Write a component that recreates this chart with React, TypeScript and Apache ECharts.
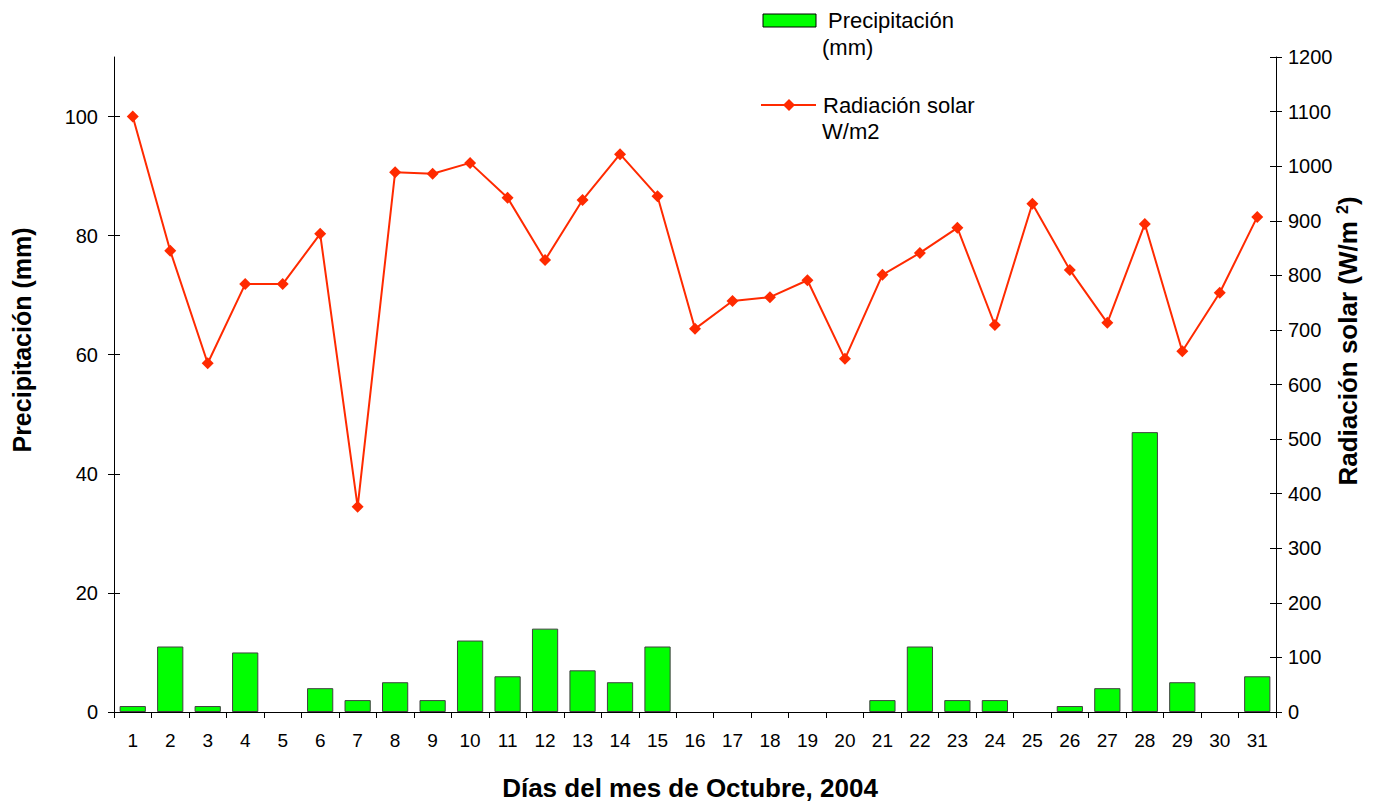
import React, { useEffect, useRef } from "react";
import * as echarts from "echarts";

const days = ["1","2","3","4","5","6","7","8","9","10","11","12","13","14","15","16","17","18","19","20","21","22","23","24","25","26","27","28","29","30","31"];
const precipitation = [1, 11, 1, 10, 0, 4, 2, 5, 2, 12, 6, 14, 7, 5, 11, 0, 0, 0, 0, 0, 2, 11, 2, 2, 0, 1, 4, 47, 5, 0, 6];
const radiation = [1091, 845, 639, 784, 784, 876, 376, 989, 986, 1006, 942, 828, 938, 1022, 945, 702, 753, 760, 791, 647, 801, 841, 887, 709, 931, 810, 713, 894, 661, 768, 907];
const leftTicks = [0, 20, 40, 60, 80, 100];

const FONT = "'Liberation Sans', Arial, sans-serif";
const RED = "#FF2A00";
const GREEN = "#00FF00";

export default function App() {
  const ref = useRef<HTMLDivElement>(null);
  useEffect(() => {
    if (!ref.current) return;
    const chart = echarts.init(ref.current, null, { renderer: "svg" });
    const axisLine = { show: true, lineStyle: { color: "#000", width: 1 } };
    chart.setOption({
      animation: false,
      textStyle: { fontFamily: FONT },
      grid: { left: 114, right: 97, top: 57, bottom: 91, containLabel: false },
      xAxis: {
        type: "category",
        data: days,
        axisLine,
        axisTick: { show: true, alignWithLabel: false, length: 6, lineStyle: { color: "#000" } },
        axisLabel: { color: "#000", fontSize: 19, margin: 19, fontFamily: FONT },
      },
      yAxis: [
        {
          type: "value", position: "left", min: 0, max: 110,
          axisLine, splitLine: { show: false },
          axisTick: { show: true, length: 6, customValues: leftTicks, lineStyle: { color: "#000" } },
          axisLabel: { color: "#000", fontSize: 20, margin: 16, customValues: leftTicks, fontFamily: FONT },
        },
        {
          type: "value", position: "right", min: 0, max: 1200, interval: 100,
          axisLine, splitLine: { show: false },
          axisTick: { show: true, length: 6, lineStyle: { color: "#000" } },
          axisLabel: { color: "#000", fontSize: 20, margin: 12, fontFamily: FONT, formatter: (v: number) => String(v) },
        },
        {
          type: "value", position: "left", min: 0, max: 110,
          axisLine: { show: false }, splitLine: { show: false },
          axisTick: { show: true, inside: true, length: 6, customValues: leftTicks, lineStyle: { color: "#000" } },
          axisLabel: { show: false },
        },
        {
          type: "value", position: "right", min: 0, max: 1200, interval: 100,
          axisLine: { show: false }, splitLine: { show: false },
          axisTick: { show: true, inside: true, length: 6, lineStyle: { color: "#000" } },
          axisLabel: { show: false },
        },
      ],
      series: [
        {
          name: "Precipitación (mm)",
          type: "bar",
          yAxisIndex: 0,
          data: precipitation.map((p) => (p === 0 ? null : p)),
          barWidth: "70%",
          itemStyle: { color: GREEN, borderColor: "#404040", borderWidth: 1 },
        },
        {
          name: "Radiación solar W/m2",
          type: "line",
          yAxisIndex: 1,
          data: radiation,
          symbol: "diamond",
          symbolSize: 12,
          lineStyle: { color: RED, width: 2 },
          itemStyle: { color: RED },
        },
      ],
      graphic: [
        { type: "rect", shape: { x: 763, y: 14, width: 53, height: 13 }, style: { fill: GREEN, stroke: "#000", lineWidth: 1 } },
        { type: "text", x: 828, y: 20, style: { text: "Precipitación", font: `22px ${FONT}`, fill: "#000", textVerticalAlign: "middle" } },
        { type: "text", x: 822, y: 47, style: { text: "(mm)", font: `22px ${FONT}`, fill: "#000", textVerticalAlign: "middle" } },
        { type: "line", shape: { x1: 761, y1: 105, x2: 816, y2: 105 }, style: { stroke: RED, lineWidth: 2 } },
        { type: "polygon", shape: { points: [[789, 99], [795, 105], [789, 111], [783, 105]] }, style: { fill: RED } },
        { type: "text", x: 823, y: 105, style: { text: "Radiación solar", font: `22px ${FONT}`, fill: "#000", textVerticalAlign: "middle" } },
        { type: "text", x: 822, y: 131, style: { text: "W/m2", font: `22px ${FONT}`, fill: "#000", textVerticalAlign: "middle" } },
        {
          type: "text", x: 22, y: 340, rotation: Math.PI / 2,
          style: { text: "Precipitación (mm)", font: `bold 25px ${FONT}`, fill: "#000", textAlign: "center", textVerticalAlign: "middle" },
        },
        {
          type: "text", x: 1348, y: 341, rotation: Math.PI / 2,
          style: {
            text: "{a|Radiación solar (W/m }{s|2}{a|)}",
            textAlign: "center", textVerticalAlign: "middle",
            rich: {
              a: { font: `bold 26px ${FONT}`, fill: "#000", color: "#000" },
              s: { font: `bold 16px ${FONT}`, fill: "#000", color: "#000", verticalAlign: "top", padding: [0, 0, 12, 0] },
            },
          },
        },
        {
          type: "text", x: 690, y: 788,
          style: { text: "Días del mes de Octubre, 2004", font: `bold 26px ${FONT}`, fill: "#000", textAlign: "center", textVerticalAlign: "middle" },
        },
      ],
    });
    return () => chart.dispose();
  }, []);
  return <div ref={ref} style={{ width: 1373, height: 803, position: "absolute", left: 0, top: 0 }} />;
}
